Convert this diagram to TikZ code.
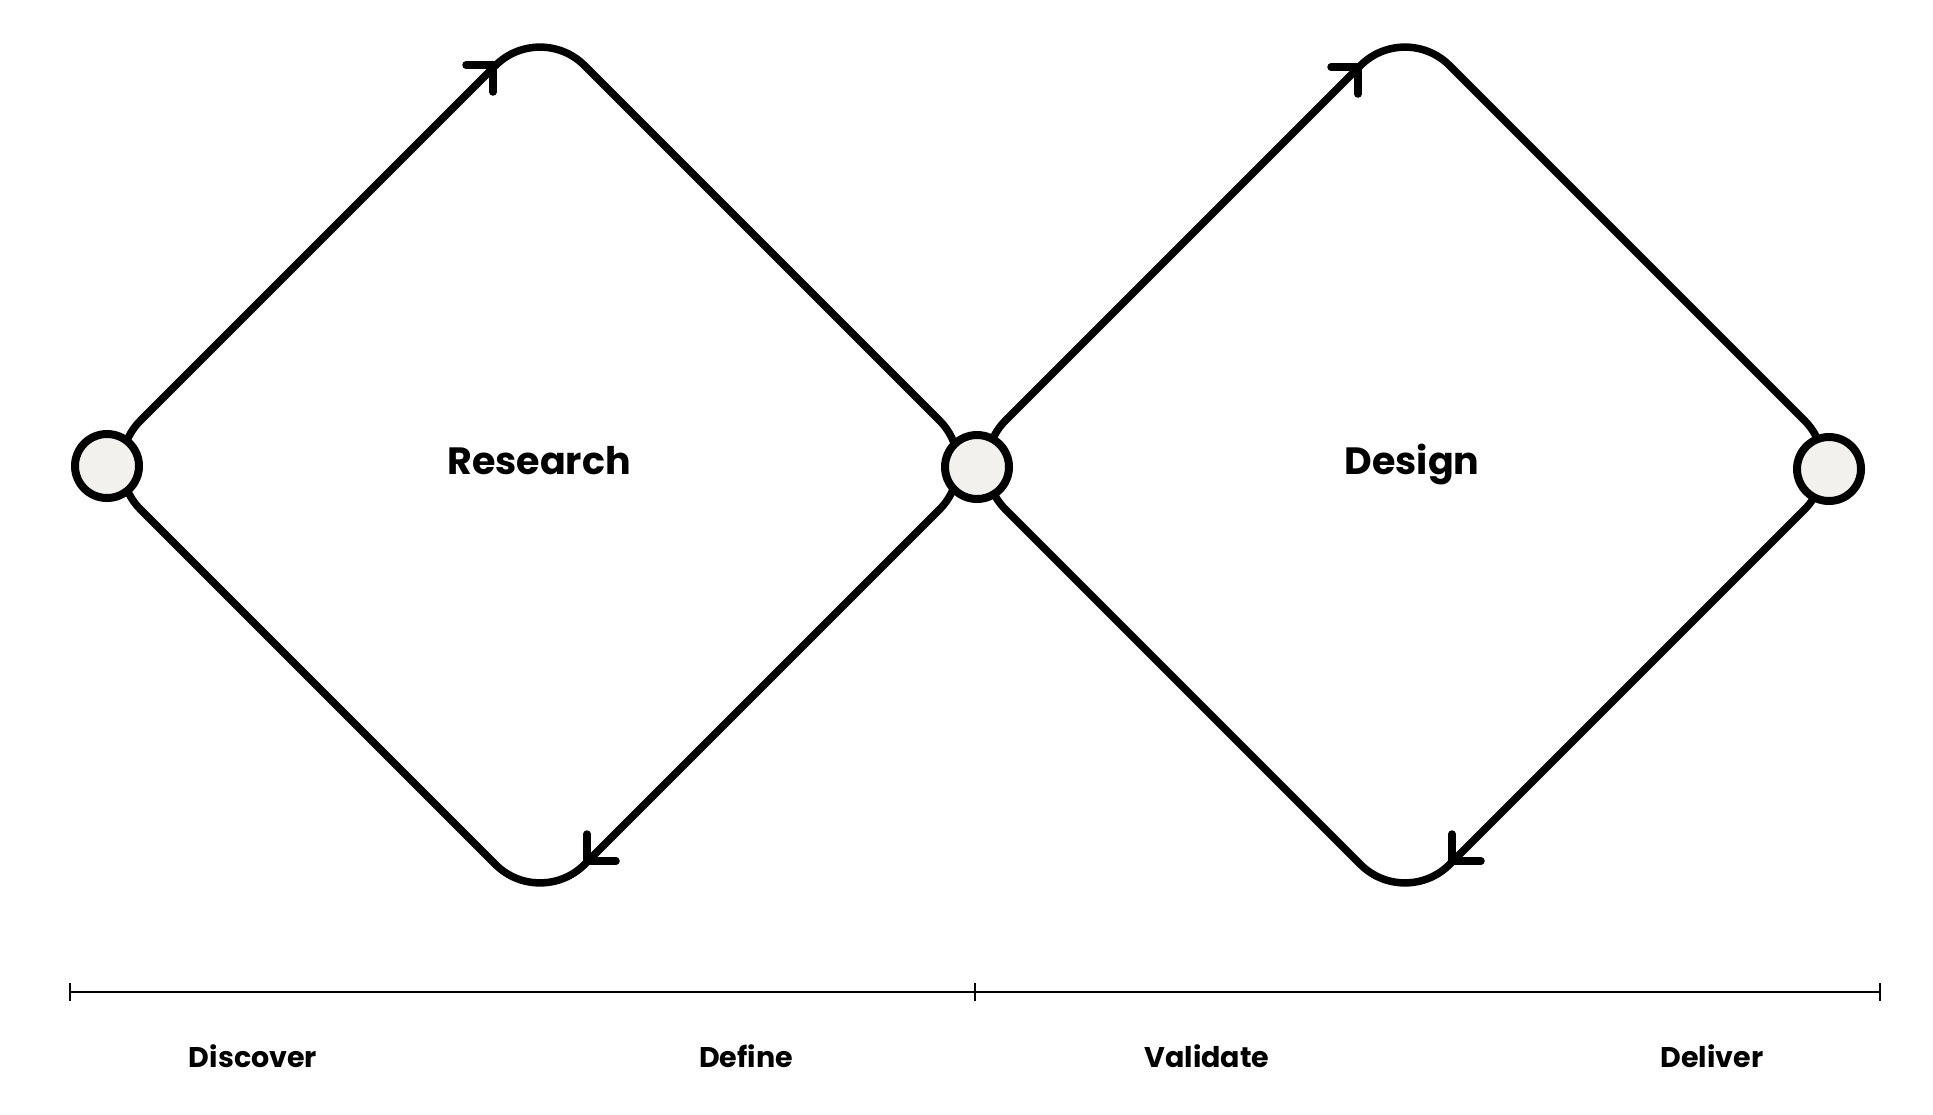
\documentclass[tikz,border=0pt]{standalone}
\usepackage{fontspec}
\setmainfont{Poppins}
\definecolor{nodefill}{HTML}{F3F1EE}
\begin{document}
\begin{tikzpicture}[x=1pt,y=-1pt,
  loop/.style={line width=7.5pt,rounded corners=63pt,line join=round},
  headmark/.style={line width=7.5pt,line cap=round,line join=miter},
  hub/.style={circle,draw,line width=8pt,fill=nodefill,minimum size=64pt,inner sep=0pt},
  axis/.style={line width=2.5pt},
  phase/.style={anchor=base,font=\fontsize{28.5}{32}\selectfont\bfseries},
  title/.style={anchor=base,font=\fontsize{38}{42}\selectfont\bfseries}]
\path[use as bounding box,fill=white] (0,0) rectangle (1933,1114);

% corners of the two loops
\coordinate (aL) at (96,465);  \coordinate (aT) at (540,21);
\coordinate (aR) at (984,465); \coordinate (aB) at (540,909);
\coordinate (bL) at (961,465); \coordinate (bT) at (1405,21);
\coordinate (bR) at (1849,465);\coordinate (bB) at (1405,909);

% the two loops
\draw[loop] (aL) -- (aT) -- (aR) -- (aB) -- cycle;
\draw[loop] (bL) -- (bT) -- (bR) -- (bB) -- cycle;

% direction marks
\coordinate (h1) at (493,65);  \coordinate (h2) at (587,861);
\coordinate (h3) at (1358,67); \coordinate (h4) at (1452,861);
\draw[headmark] (h1) ++(-27,0) -- (h1) -- ++(0,27);
\draw[headmark] (h2) ++(0,-27) -- (h2) -- ++(29,0);
\draw[headmark] (h3) ++(-27,0) -- (h3) -- ++(0,27);
\draw[headmark] (h4) ++(0,-27) -- (h4) -- ++(29,0);

% hubs
\node[hub] (c1) at (107,466) {};
\node[hub] (c2) at (977,467) {};
\node[hub] (c3) at (1829,469) {};

% titles
\node[title] (t1) at (539,474) {Research};
\node[title] (t2) at (1412,474) {Design};

% phase axis
\coordinate (x0) at (70,992); \coordinate (x1) at (975,992); \coordinate (x2) at (1880,992);
\draw[axis] (x0) -- (x2);
\draw[axis] (x0) ++(0,-9) -- ++(0,18);
\draw[axis] (x1) ++(0,-9) -- ++(0,18);
\draw[axis] (x2) ++(0,-9) -- ++(0,18);

% phase labels
\node[phase] (p1) at (253,1067) {Discover};
\node[phase] (p2) at (746,1067) {Define};
\node[phase] (p3) at (1207,1067) {Validate};
\node[phase] (p4) at (1712,1067) {Deliver};
\end{tikzpicture}
\end{document}
